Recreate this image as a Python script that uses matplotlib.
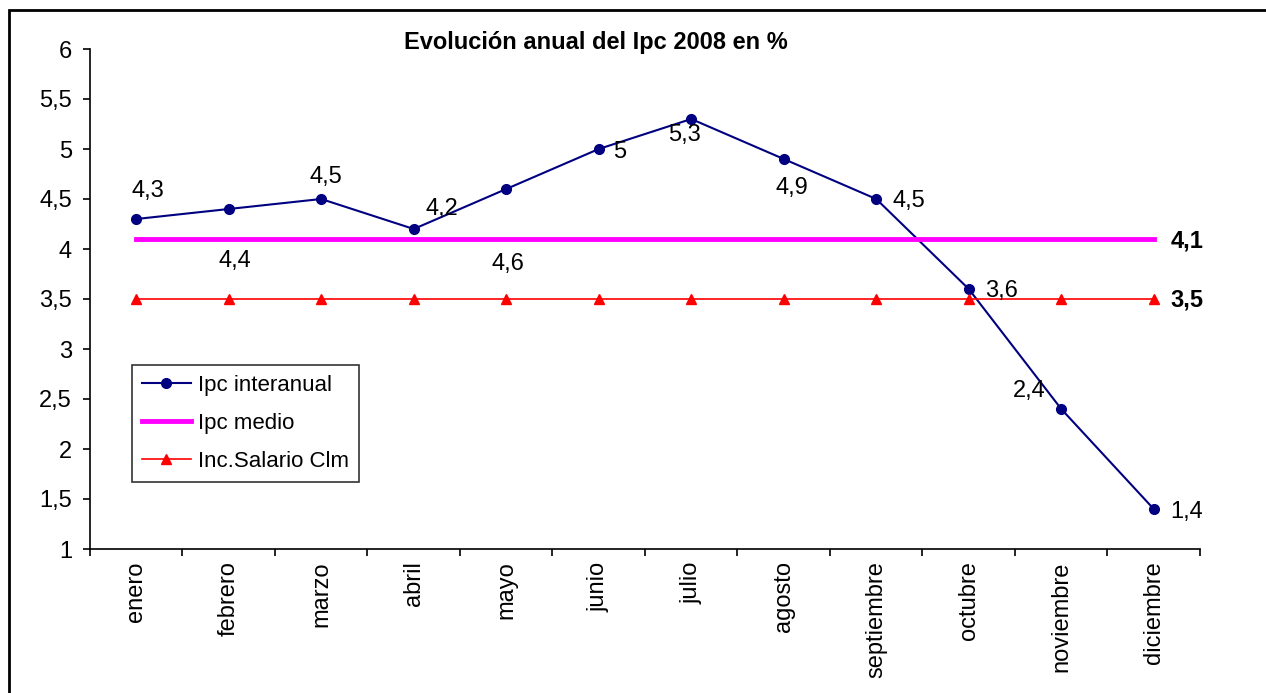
import matplotlib
matplotlib.use('Agg')
import matplotlib.pyplot as plt
from matplotlib.patches import Rectangle
from matplotlib.ticker import FixedLocator, FuncFormatter
import numpy as np

meses = ['enero', 'febrero', 'marzo', 'abril', 'mayo', 'junio', 'julio',
         'agosto', 'septiembre', 'octubre', 'noviembre', 'diciembre']
ipcInteranual = [4.3, 4.4, 4.5, 4.2, 4.6, 5.0, 5.3, 4.9, 4.5, 3.6, 2.4, 1.4]
ipcMedio = [4.1] * 12
incSalario = [3.5] * 12
yTicks = [1, 1.5, 2, 2.5, 3, 3.5, 4, 4.5, 5, 5.5, 6]

# label offsets in pixels (dx, dy with y up)
labelOffsets = [(12, 28), (6, -52), (5, 22), (28, 20), (2, -75), (21, -3),
                (-7, -16), (8, -29), (33, -2), (33, -2), (-32, 18), (33, -3)]

def comma(v):
    s = ('%g' % v)
    return s.replace('.', ',')

plt.rcParams['font.family'] = ['Liberation Sans', 'DejaVu Sans']
fs = 17

fig = plt.figure(figsize=(12.66, 6.93), dpi=100)
ax = fig.add_axes([90/1266, 1 - 549/693, 1110/1266, 500/693])

x = np.arange(len(meses)) + 0.5
ax.plot(x, ipcInteranual, color='#000080', lw=1.5, marker='o', ms=7, label='Ipc interanual')
ax.plot(x, ipcMedio, color='#FF00FF', lw=3.5, label='Ipc medio')
ax.plot(x, incSalario, color='#FF0000', lw=1.2, marker='^', ms=7.5, label='Inc.Salario Clm')

px = 0.72  # points per pixel at dpi 100
for xi, v, (dx, dy) in zip(x, ipcInteranual, labelOffsets):
    ax.annotate(comma(v), (xi, v), xytext=(dx*px, dy*px), textcoords='offset points',
                ha='center', va='center', fontsize=fs)
ax.annotate(comma(ipcMedio[-1]), (x[-1], ipcMedio[-1]), xytext=(33*px, -2*px),
            textcoords='offset points', ha='center', va='center', fontsize=fs, fontweight='bold')
ax.annotate(comma(incSalario[-1]), (x[-1], incSalario[-1]), xytext=(33*px, -1*px),
            textcoords='offset points', ha='center', va='center', fontsize=fs, fontweight='bold')

ax.set_xlim(0, len(meses))
ax.set_ylim(1, 6)
ax.set_yticks(yTicks)
ax.yaxis.set_major_formatter(FuncFormatter(lambda v, p: comma(v)))
ax.tick_params(axis='y', direction='out', length=5, width=1.2, pad=8, labelsize=fs)

ax.xaxis.set_major_locator(FixedLocator(np.arange(len(meses) + 1)))
ax.xaxis.set_major_formatter(FuncFormatter(lambda v, p: ''))
ax.xaxis.set_minor_locator(FixedLocator(x))
ax.set_xticklabels(meses, minor=True, rotation=90, fontsize=fs)
ax.tick_params(axis='x', which='major', direction='out', length=5, width=1.2)
ax.tick_params(axis='x', which='minor', length=0, pad=9)

for s in ['top', 'right']:
    ax.spines[s].set_visible(False)
for s in ['left', 'bottom']:
    ax.spines[s].set_linewidth(1.2)

fig.text(596/1266, 1 - 42/693, 'Evolución anual del Ipc 2008 en %', ha='center', va='center',
         fontsize=fs, fontweight='bold')

leg = ax.legend(loc='upper left', bbox_to_anchor=(132/1266, 1 - 365/693),
                bbox_transform=fig.transFigure, fontsize=16, frameon=True, fancybox=False,
                borderpad=0.45, labelspacing=0.77, handlelength=2.2, handletextpad=0.3,
                borderaxespad=0)
leg.get_frame().set_edgecolor('black')
leg.get_frame().set_linewidth(1.2)

fig.patches.append(Rectangle((9/1266, -0.05), 1.1, 1 - 10/693 + 0.05, transform=fig.transFigure,
                             fill=False, edgecolor='black', lw=2, clip_on=False))

fig.savefig('out.png', dpi=100)
